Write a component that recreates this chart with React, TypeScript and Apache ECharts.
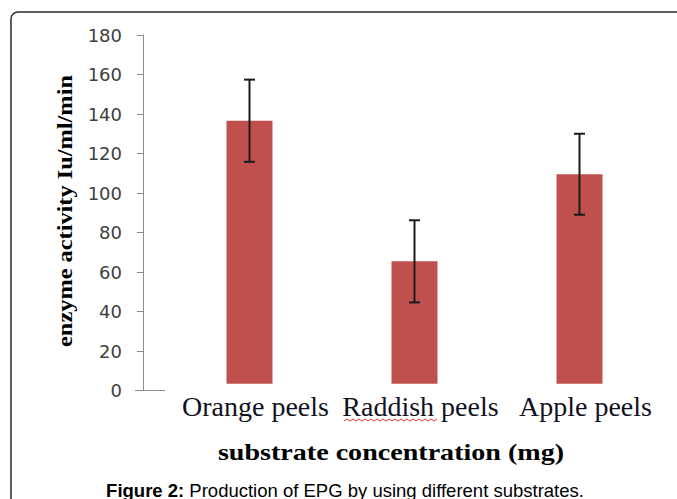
import React, { useEffect, useRef } from "react";
import * as echarts from "echarts";

const categories = ["Orange peels", "Raddish peels", "Apple peels"];
const activity = [136.6, 65.4, 109.5];
const errors = [20.8, 20.8, 20.5];
const BAR_BASE = 3.4;
const yTicks = { min: 0, max: 180, interval: 20 };

export default function App() {
  const ref = useRef<HTMLDivElement>(null);
  useEffect(() => {
    if (!ref.current) return;
    const chart = echarts.init(ref.current, null, { renderer: "svg" });
    const wave: number[][] = [];
    for (let i = 0; i <= 31; i++) wave.push([344 + i * 3, i % 2 === 0 ? 421 : 419]);
    chart.setOption({
      animation: false,
      backgroundColor: "#ffffff",
      grid: { left: 167, right: 15, top: 35, bottom: 108.5 },
      xAxis: {
        type: "category",
        data: categories,
        axisLine: { show: false },
        axisTick: { show: false },
        axisLabel: {
          interval: 0,
          hideOverlap: false,
          fontFamily: "Liberation Serif",
          fontSize: 28,
          color: "#111122",
          margin: 2,
          padding: [0, 0, 0, 12],
        },
      },
      yAxis: {
        type: "value",
        min: yTicks.min,
        max: yTicks.max,
        interval: yTicks.interval,
        offset: 24,
        axisLine: { show: true, lineStyle: { color: "#8c8c8c", width: 1 } },
        axisTick: { show: true, length: 6, lineStyle: { color: "#8c8c8c" } },
        splitLine: { show: false },
        axisLabel: {
          fontFamily: "DejaVu Sans",
          fontSize: 18,
          color: "#404040",
          margin: 21,
        },
      },
      series: [
        {
          type: "bar",
          stack: "s",
          data: categories.map(() => BAR_BASE),
          itemStyle: { color: "rgba(0,0,0,0)" },
          barWidth: 46,
          silent: true,
        },
        {
          type: "bar",
          stack: "s",
          data: activity.map((v) => v - BAR_BASE),
          itemStyle: { color: "#C0504D" },
          barWidth: 46,
        },
        {
          type: "custom",
          z: 10,
          data: categories.map((_, i) => [i, activity[i], errors[i]]),
          encode: { x: 0, y: 1 },
          renderItem: (params: any, api: any) => {
            const x = api.value(0);
            const v = api.value(1);
            const e = api.value(2);
            const top = api.coord([x, v + e]);
            const bot = api.coord([x, v - e]);
            const hw = 5.5;
            const style = { stroke: "#1a1a1a", lineWidth: 2 };
            return {
              type: "group",
              children: [
                { type: "line", shape: { x1: top[0], y1: top[1], x2: bot[0], y2: bot[1] }, style },
                { type: "line", shape: { x1: top[0] - hw, y1: top[1], x2: top[0] + hw, y2: top[1] }, style },
                { type: "line", shape: { x1: bot[0] - hw, y1: bot[1], x2: bot[0] + hw, y2: bot[1] }, style },
              ],
            };
          },
        },
      ],
      graphic: [
        {
          type: "rect",
          shape: { x: 11, y: 12, width: 720, height: 540, r: 7 },
          style: { fill: "none", stroke: "#2a2a2a", lineWidth: 1.5 },
          z: 0,
        },
        {
          type: "line",
          shape: { x1: 135, y1: 390.5, x2: 165, y2: 390.5 },
          style: { stroke: "#8c8c8c", lineWidth: 1 },
        },
        {
          type: "text",
          x: 65,
          y: 211,
          rotation: Math.PI / 2,
          scaleX: 1.16,
          style: {
            text: "enzyme activity Iu/ml/min",
            fontFamily: "Liberation Serif",
            fontWeight: "bold",
            fontSize: 21,
            fill: "#000",
            align: "center",
            verticalAlign: "middle",
          },
        },
        {
          type: "text",
          x: 391,
          y: 452,
          scaleX: 1.17,
          style: {
            text: "substrate concentration (mg)",
            fontFamily: "Liberation Serif",
            fontWeight: "bold",
            fontSize: 24,
            fill: "#000",
            align: "center",
            verticalAlign: "middle",
          },
        },
        {
          type: "text",
          x: 345,
          y: 490,
          style: {
            text: "{b|Figure 2:} Production of EPG by using different substrates.",
            rich: {
              b: { fontFamily: "Liberation Sans", fontWeight: "bold", fontSize: 18.5, fill: "#000" },
            },
            fontFamily: "Liberation Sans",
            fontSize: 18.5,
            fill: "#000",
            align: "center",
            verticalAlign: "middle",
          },
        },
        {
          type: "polyline",
          z: 20,
          shape: { points: wave },
          style: { stroke: "#e03030", lineWidth: 1, fill: "none" },
        },
      ],
    });
    return () => chart.dispose();
  }, []);
  return (
    <div
      ref={ref}
      style={{ position: "absolute", left: 0, top: 0, width: 677, height: 499, background: "#fff" }}
    />
  );
}
